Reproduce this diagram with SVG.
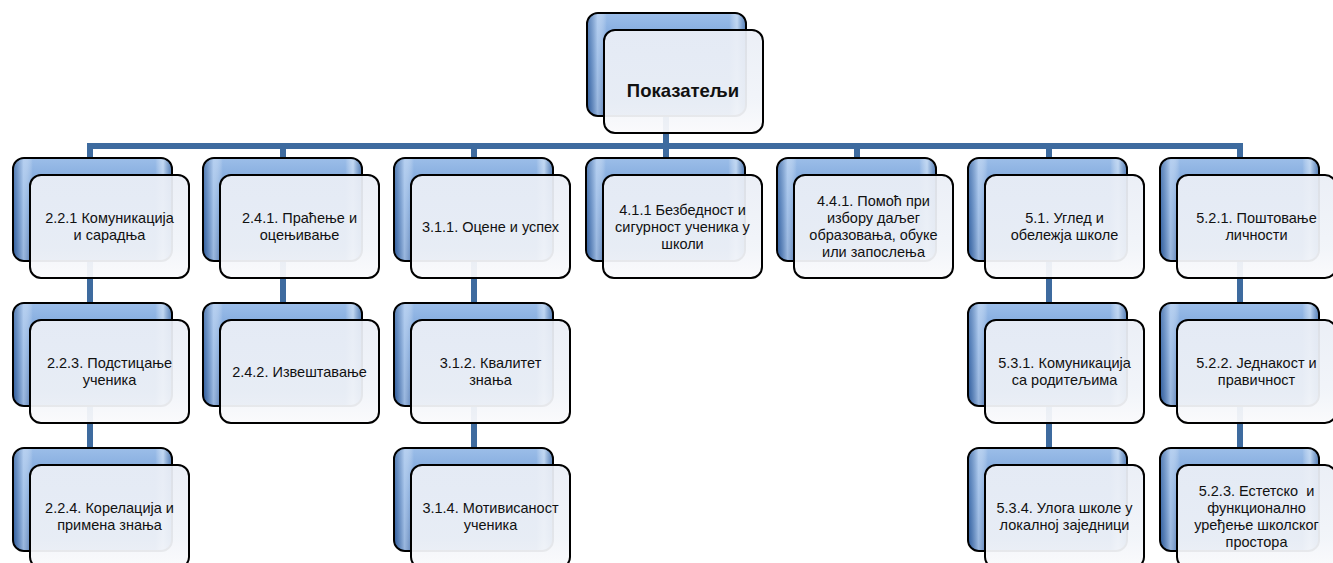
<svg xmlns="http://www.w3.org/2000/svg" width="1333" height="563" viewBox="0 0 1333 563">
<defs>
<linearGradient id="bg" x1="0" y1="0" x2="0" y2="1">
<stop offset="0" stop-color="#9CBEE9"/>
<stop offset="0.45" stop-color="#6A97D2"/>
<stop offset="1" stop-color="#3C69AA"/>
</linearGradient>
<linearGradient id="bgs" x1="0" y1="0" x2="1" y2="0">
<stop offset="0" stop-color="#2F5A96" stop-opacity="0.55"/>
<stop offset="0.06" stop-color="#BFD6F3" stop-opacity="0.7"/>
<stop offset="0.12" stop-color="#ffffff" stop-opacity="0"/>
<stop offset="0.9" stop-color="#ffffff" stop-opacity="0"/>
<stop offset="0.95" stop-color="#DDEBFA" stop-opacity="0.6"/>
<stop offset="1" stop-color="#2F5A96" stop-opacity="0.5"/>
</linearGradient>
<linearGradient id="fg" x1="0" y1="0" x2="0" y2="1">
<stop offset="0" stop-color="#EAEEF6"/>
<stop offset="0.7" stop-color="#F1F4F9"/>
<stop offset="1" stop-color="#FAFAFC"/>
</linearGradient>
<g id="box">
<rect x="0" y="0" width="159" height="103" rx="11" fill="url(#bg)" stroke="#000" stroke-width="2"/>
<rect x="1" y="1" width="157" height="101" rx="10" fill="url(#bgs)"/>
<rect x="17" y="17" width="159" height="103" rx="11" fill="url(#fg)" fill-opacity="0.94" stroke="#000" stroke-width="2"/>
</g>
</defs>
<style>
.c{stroke:#3E6B9F;stroke-width:6;fill:none;stroke-linecap:butt}
.t{font-family:"Liberation Sans",Arial,sans-serif;font-size:14.5px;fill:#111;text-anchor:middle}
.h{font-family:"Liberation Sans",Arial,sans-serif;font-size:18.5px;font-weight:bold;fill:#111;text-anchor:middle}
</style>
<rect width="1333" height="563" fill="#fff"/>
<g id="connectors">
<path class="c" d="M666 115V146M87 146H1243"/>
<path class="c" d="M90 146V470"/>
<path class="c" d="M283 146V320"/>
<path class="c" d="M474 146V470"/>
<path class="c" d="M666 146V175"/>
<path class="c" d="M857 146V175"/>
<path class="c" d="M1049 146V470"/>
<path class="c" d="M1240 146V470"/>
</g>
<g id="n-root"><use href="#box" x="587" y="13"/><text class="h" x="683" y="97">Показатељи</text></g>
<g id="n-221"><use href="#box" x="13" y="158"/><text class="t"><tspan x="109.5" y="223">2.2.1 Комуникација</tspan><tspan x="109.5" y="239.5">и сарадња</tspan></text></g>
<g id="n-223"><use href="#box" x="13" y="303"/><text class="t"><tspan x="109.5" y="368">2.2.3. Подстицање</tspan><tspan x="109.5" y="384.5">ученика</tspan></text></g>
<g id="n-224"><use href="#box" x="13" y="448"/><text class="t"><tspan x="109.5" y="513">2.2.4. Корелација и</tspan><tspan x="109.5" y="529.5">примена знања</tspan></text></g>
<g id="n-241"><use href="#box" x="203" y="158"/><text class="t"><tspan x="299.5" y="223">2.4.1. Праћење и</tspan><tspan x="299.5" y="239.5">оцењивање</tspan></text></g>
<g id="n-242"><use href="#box" x="203" y="303"/><text class="t"><tspan x="299.5" y="376.5">2.4.2. Извештавање</tspan></text></g>
<g id="n-311"><use href="#box" x="394" y="158"/><text class="t"><tspan x="490.5" y="231.5">3.1.1. Оцене и успех</tspan></text></g>
<g id="n-312"><use href="#box" x="394" y="303"/><text class="t"><tspan x="490.5" y="368">3.1.2. Квалитет</tspan><tspan x="490.5" y="384.5">знања</tspan></text></g>
<g id="n-314"><use href="#box" x="394" y="448"/><text class="t"><tspan x="490.5" y="513">3.1.4. Мотивисаност</tspan><tspan x="490.5" y="529.5">ученика</tspan></text></g>
<g id="n-411"><use href="#box" x="586" y="158"/><text class="t"><tspan x="682.5" y="214.5">4.1.1 Безбедност и</tspan><tspan x="682.5" y="231.5">сигурност ученика у</tspan><tspan x="682.5" y="248.5">школи</tspan></text></g>
<g id="n-441"><use href="#box" x="777" y="158"/><text class="t"><tspan x="873.5" y="206">4.4.1. Помоћ при</tspan><tspan x="873.5" y="223">избору даљег</tspan><tspan x="873.5" y="240">образовања, обуке</tspan><tspan x="873.5" y="257">или запослења</tspan></text></g>
<g id="n-51"><use href="#box" x="968" y="158"/><text class="t"><tspan x="1064.5" y="223">5.1. Углед и</tspan><tspan x="1064.5" y="239.5">обележја школе</tspan></text></g>
<g id="n-531"><use href="#box" x="968" y="303"/><text class="t"><tspan x="1064.5" y="368">5.3.1. Комуникација</tspan><tspan x="1064.5" y="384.5">са родитељима</tspan></text></g>
<g id="n-534"><use href="#box" x="968" y="448"/><text class="t"><tspan x="1064.5" y="513">5.3.4. Улога школе у</tspan><tspan x="1064.5" y="529.5">локалној заједници</tspan></text></g>
<g id="n-521"><use href="#box" x="1160" y="158"/><text class="t"><tspan x="1256.5" y="223">5.2.1. Поштовање</tspan><tspan x="1256.5" y="239.5">личности</tspan></text></g>
<g id="n-522"><use href="#box" x="1160" y="303"/><text class="t"><tspan x="1256.5" y="368">5.2.2. Једнакост и</tspan><tspan x="1256.5" y="384.5">правичност</tspan></text></g>
<g id="n-523"><use href="#box" x="1160" y="448"/><text class="t" xml:space="preserve"><tspan x="1256.5" y="496">5.2.3. Естетско  и</tspan><tspan x="1256.5" y="513">функционално</tspan><tspan x="1256.5" y="530">уређење школског</tspan><tspan x="1256.5" y="547">простора</tspan></text></g>
</svg>
